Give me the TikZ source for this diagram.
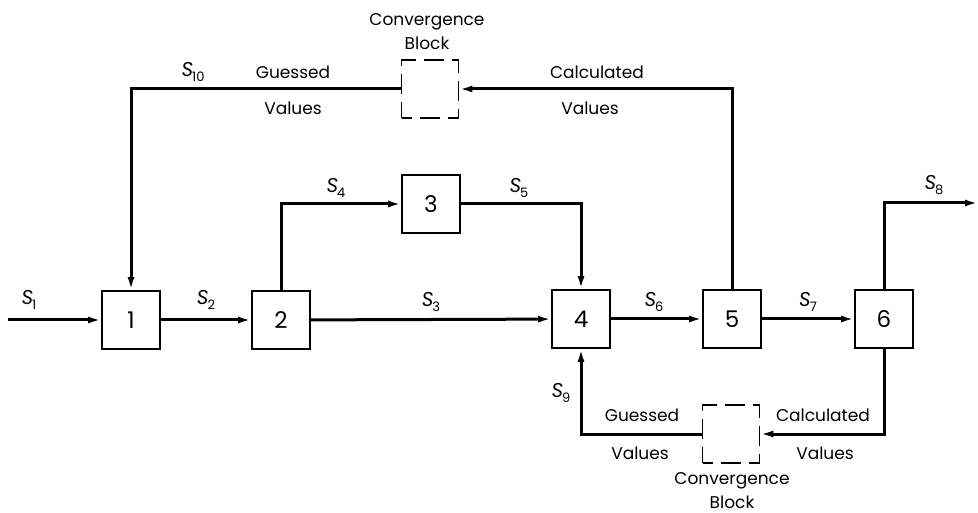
\documentclass[tikz,border=0pt]{standalone}
\usepackage{fontspec}
\setmainfont{Poppins}
\usetikzlibrary{arrows.meta,positioning}

\newcommand{\sname}[1]{{\fontsize{20}{20}\selectfont\textit{S}}\kern-1pt\raisebox{-0.6ex}{\fontsize{13}{13}\selectfont #1}}

\tikzset{
  unit/.style={draw, line width=1.6pt, minimum size=58pt, inner sep=0pt, font=\fontsize{23}{25}\selectfont},
  convblk/.style={draw, line width=1.6pt, minimum width=57pt, minimum height=58pt, dash pattern=on 20pt off 8pt, dash phase=10pt},
  stream/.style={line width=3pt, -{Latex[length=13pt,width=7pt]}},
  lbl/.style={font=\fontsize{17}{19}\selectfont, inner sep=0pt},
}

\begin{document}
\begin{tikzpicture}[x=1pt, y=-1pt]
\useasboundingbox (0,0) rectangle (978,513);

% process units
\node[unit] (u1) at (131,320) {1};
\node[unit] (u2) at (281,320) {2};
\node[unit] (u3) at (431,204) {3};
\node[unit] (u4) at (581,319) {4};
\node[unit] (u5) at (732,319) {5};
\node[unit] (u6) at (884,319) {6};

% convergence blocks
\node[convblk] (cbtop) at (430,89) {};
\node[convblk] (cbbot) at (731,434) {};

% feed and product ends
\coordinate (feed) at (8,320);
\coordinate (prod) at (978,203);

% main streams
\draw[stream] (feed) -- (u1);
\draw[stream] (u1) -- (u2);
\draw[stream] (u2) -- (u4);
\draw[stream] (u2.north) |- (u3);
\draw[stream] (u3) -| (u4);
\draw[stream] (u4) -- (u5);
\draw[stream] (u5) -- (u6);
\draw[stream] (u6) |- (prod);

% recycle loops through the convergence blocks
\draw[stream] (u5) |- (cbtop);
\draw[stream] (cbtop) -| (u1);
\draw[stream] (u6) |- (cbbot);
\draw[stream] (cbbot) -| (u4);

% stream names
\node[lbl] (s1) at (29,300) {\sname{1}};
\node[lbl] (s2) at (206,300) {\sname{2}};
\node[lbl] (s3) at (431,302) {\sname{3}};
\node[lbl] (s4) at (336,188) {\sname{4}};
\node[lbl] (s5) at (519,188) {\sname{5}};
\node[lbl] (s6) at (654,302) {\sname{6}};
\node[lbl] (s7) at (808,302) {\sname{7}};
\node[lbl] (s8) at (934,185) {\sname{8}};
\node[lbl] (s9) at (561,393) {\sname{9}};
\node[lbl] (s10) at (193,72) {\sname{10}};

% top loop texts
\node[lbl] (ttop) at (427,22) {Convergence};
\node[lbl] (btop) at (427,43) {Block};
\node[lbl] (gtop) at (293,72) {Guessed};
\node[lbl] (vgtop) at (293,108) {Values};
\node[lbl] (ctop) at (597,72) {Calculated};
\node[lbl] (vctop) at (590,108) {Values};

% bottom loop texts
\node[lbl] (gbot) at (642,415) {Guessed};
\node[lbl] (vgbot) at (640,453) {Values};
\node[lbl] (cbot) at (823,415) {Calculated};
\node[lbl] (vcbot) at (825,453) {Values};
\node[lbl] (tbot) at (732,481) {Convergence};
\node[lbl] (bbot) at (732,502) {Block};
\end{tikzpicture}
\end{document}
